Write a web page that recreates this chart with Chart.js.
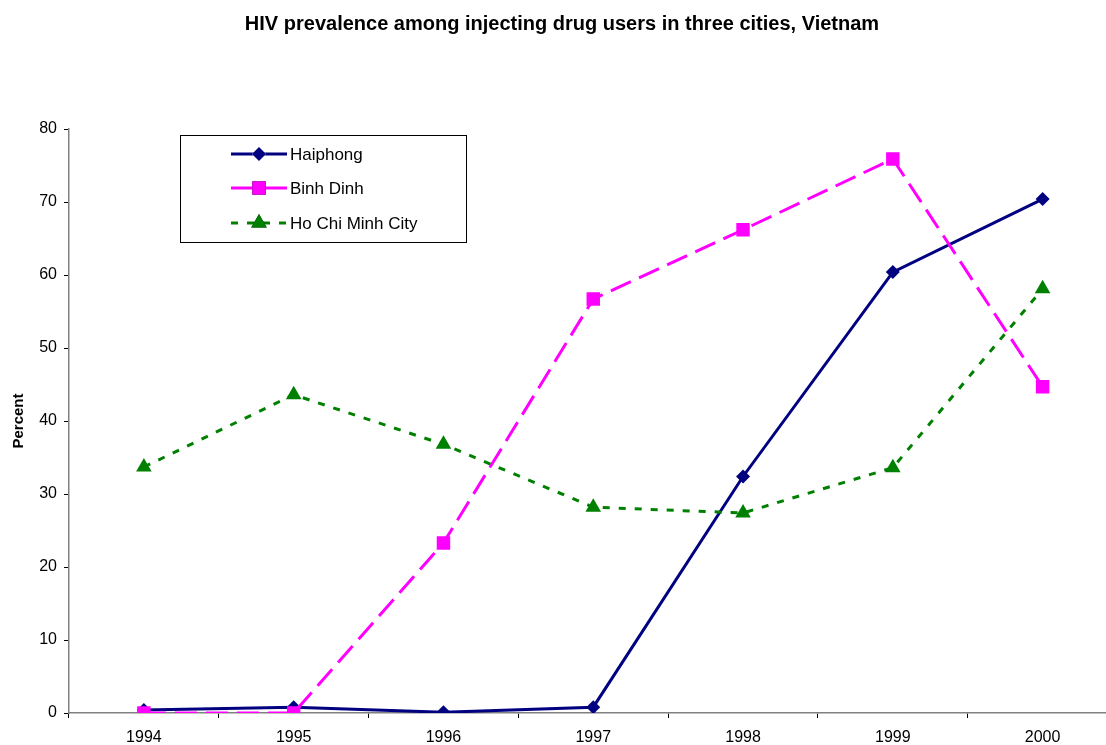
<!DOCTYPE html>
<html>
<head>
<meta charset="utf-8">
<script src="https://cdn.jsdelivr.net/npm/chart.js@4"></script>
<style>
  html, body { margin: 0; padding: 0; background: #fff; overflow: hidden; }
  #wrap { width: 1106px; height: 745px; overflow: hidden; }
</style>
</head>
<body>
<div id="wrap"><canvas id="chart" width="1127" height="745"></canvas></div>
<script>
// HIV prevalence among IDUs
const years = ['1994', '1995', '1996', '1997', '1998', '1999', '2000'];
const haiphong = [0.4, 0.8, 0.1, 0.8, 32.4, 60.4, 70.4];
const binhDinh = [0, 0, 23.3, 56.7, 66.2, 75.9, 44.7];
const hoChiMinh = [33.7, 43.6, 36.8, 28.2, 27.4, 33.6, 58.1];
const yTicks = [0, 10, 20, 30, 40, 50, 60, 70, 80];

const FONT = "Arial, 'Liberation Sans', sans-serif";
Chart.defaults.font.family = FONT;
Chart.defaults.color = '#000';

// ── Legend box drawn inside the plot, Excel style ──
const boxLegend = {
  id: 'boxLegend',
  afterDatasetsDraw(chart) {
    const ctx = chart.ctx;
    const x0 = 180, y0 = 135, w = 286, h = 107;
    ctx.save();
    ctx.fillStyle = '#fff';
    ctx.fillRect(x0, y0, w, h);
    ctx.strokeStyle = '#000';
    ctx.lineWidth = 1;
    ctx.strokeRect(x0 + 0.5, y0 + 0.5, w, h);
    const rows = [154, 188, 223];
    chart.data.datasets.forEach((ds, i) => {
      const y = rows[i];
      ctx.strokeStyle = ds.borderColor;
      ctx.lineWidth = ds.borderWidth;
      ctx.setLineDash(ds.legendDash || []);
      ctx.beginPath();
      ctx.moveTo(231, y);
      ctx.lineTo(287, y);
      ctx.stroke();
      ctx.setLineDash([]);
      Chart.helpers.drawPoint(ctx, {
        pointStyle: ds.pointStyle,
        radius: ds.pointRadius,
        rotation: 0,
        borderWidth: 0
      }, 259, y);
      ctx.fillStyle = ds.pointBackgroundColor;
      ctx.fill();
      ctx.fillStyle = '#000';
      ctx.font = '17px ' + FONT;
      ctx.textBaseline = 'middle';
      ctx.fillText(ds.label, 290, y + 1);
    });
    ctx.restore();
  }
};

new Chart(document.getElementById('chart'), {
  type: 'line',
  data: {
    labels: years,
    datasets: [
      {
        label: 'Haiphong',
        data: haiphong,
        order: 2,
        borderColor: '#000080',
        backgroundColor: '#000080',
        pointBackgroundColor: '#000080',
        pointBorderWidth: 0,
        borderWidth: 3,
        pointStyle: 'rectRot',
        pointRadius: 7,
        tension: 0,
      },
      {
        label: 'Binh Dinh',
        data: binhDinh,
        order: 1,
        borderColor: '#ff00ff',
        backgroundColor: '#ff00ff',
        pointBackgroundColor: '#ff00ff',
        pointBorderWidth: 0,
        borderWidth: 3,
        borderDash: [22, 9],
        pointStyle: 'rect',
        pointRadius: 9.5,
        tension: 0,
      },
      {
        label: 'Ho Chi Minh City',
        data: hoChiMinh,
        order: 0,
        borderColor: '#008000',
        backgroundColor: '#008000',
        pointBackgroundColor: '#008000',
        pointBorderWidth: 0,
        borderWidth: 3,
        borderDash: [7, 9],
        legendDash: [7, 9],
        pointStyle: 'triangle',
        pointRadius: 9,
        tension: 0,
      }
    ]
  },
  options: {
    responsive: false,
    animation: false,
    layout: { padding: { left: 0, right: 3, top: 0, bottom: 0 } },
    plugins: {
      legend: { display: false },
      tooltip: { enabled: false },
      title: {
        display: true,
        text: 'HIV prevalence among injecting drug users in three cities, Vietnam',
        font: { size: 20, weight: 'bold' },
        color: '#000',
        padding: { top: 12, bottom: 93 }
      }
    },
    scales: {
      x: {
        offset: true,
        grid: { offset: true, drawOnChartArea: false, tickLength: 5, color: '#000' },
        border: { color: '#808080', width: 1.5 },
        ticks: { font: { size: 16 }, color: '#000', padding: 10, maxRotation: 0 },
        afterFit: s => { s.height = 32; }
      },
      y: {
        min: 0,
        max: 80,
        afterBuildTicks: s => { s.ticks = yTicks.map(v => ({ value: v })); },
        grid: { drawOnChartArea: false, tickLength: 5, color: '#000' },
        border: { color: '#808080', width: 1.5 },
        ticks: { font: { size: 16 }, color: '#000', padding: 7 },
        title: {
          display: true,
          text: 'Percent',
          font: { size: 15, weight: 'bold' },
          color: '#000',
          padding: { top: 10, bottom: 4 }
        },
        afterFit: s => { s.width = 69; }
      }
    }
  },
  plugins: [boxLegend]
});
</script>
</body>
</html>
